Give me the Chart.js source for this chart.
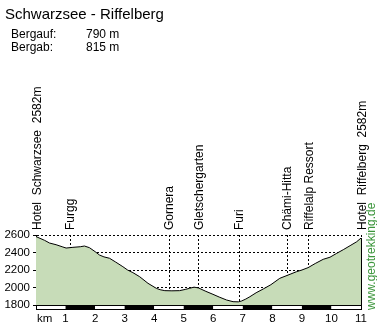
<!DOCTYPE html>
<html lang="de">
<head>
<meta charset="utf-8">
<title>Schwarzsee - Riffelberg</title>
<script src="https://cdn.jsdelivr.net/npm/chart.js@4/dist/chart.umd.min.js"></script>
<style>
    html, body { margin: 0; padding: 0; background: #fff; }
    body { width: 377px; height: 328px; position: relative; overflow: hidden;
           font-family: "Liberation Sans", Arial, sans-serif; color: #000; }
    #grafico { position: absolute; left: 0; top: 0; }
    .titel { position: absolute; left: 5px; top: 6px; font-size: 15px; line-height: 15px; white-space: nowrap; }
    .werte { position: absolute; left: 11px; top: 28px; font-size: 12px; line-height: 13px; }
    .werte div { position: relative; height: 13px; white-space: nowrap; }
    .werte span { position: absolute; left: 75px; }
</style>
</head>
<body>
<canvas id="grafico" width="377" height="328"></canvas>
<div class="titel">Schwarzsee - Riffelberg</div>
<div class="werte">
    <div>Bergauf:<span>790 m</span></div>
    <div>Bergab:<span>815 m</span></div>
</div>

<script>
// Höhenprofil: Distanz (km) und Höhe (m)
const distanzKm = [0, 0.29, 0.46, 0.68, 0.91, 1.02, 1.25, 1.5, 1.64, 1.81, 2.0, 2.15, 2.3, 2.49, 2.7, 2.94, 3.1, 3.28, 3.51, 3.79,
    4.07, 4.2, 4.36, 4.6, 4.86, 5.05, 5.2, 5.35, 5.5, 5.75, 5.99, 6.2, 6.45, 6.67, 6.85, 6.96, 7.1, 7.24, 7.45, 7.69,
    7.95, 8.25, 8.5, 8.82, 9.0, 9.21, 9.45, 9.72, 9.95, 10.18, 10.4, 10.63, 10.85, 11];
const hoeheM = [2582, 2539, 2508, 2489, 2463, 2451, 2459, 2466, 2474, 2455, 2410, 2371, 2350, 2334, 2290, 2238, 2200, 2170, 2123, 2048,
    1991, 1975, 1964, 1962, 1964, 1978, 1991, 2004, 1995, 1956, 1922, 1891, 1857, 1838, 1836, 1846, 1868, 1895, 1940, 1983,
    2032, 2105, 2138, 2181, 2200, 2227, 2274, 2322, 2346, 2391, 2432, 2478, 2522, 2565];

// Wegpunkte
const wegpunktNamen = ['Hotel  Schwarzsee  2582m', 'Furgg', 'Gornera', 'Gletschergarten', 'Furi', 'Chämi-Hitta', 'Riffelalp Ressort', 'Hotel  Riffelberg  2582m'];
const wegpunktKm = [0, 1.14, 4.49, 5.49, 6.87, 8.48, 9.21, 11];

// Achsen
const hoeheTicks = [1800, 2000, 2200, 2400, 2600];
const kmTicks = [1, 2, 3, 4, 5, 6, 7, 8, 9, 10, 11];

const SCHRIFT = '"Liberation Sans", Arial, sans-serif';
const FUELLUNG = 'rgb(199,220,184)';
const LOGO_GRUEN = '#3c963c';

const profilPlugin = {
    id: 'profil',
    beforeDatasetsDraw(chart) {
        // gepunktete Linien an den Wegpunkten
        const { ctx, chartArea } = chart;
        const xs = chart.scales.x;
        ctx.save();
        ctx.strokeStyle = '#000';
        ctx.lineWidth = 1;
        ctx.setLineDash([2, 2]);
        wegpunktKm.forEach(km => {
            const px = Math.round(xs.getPixelForValue(km)) + 0.5;
            ctx.beginPath();
            ctx.moveTo(px, chartArea.top);
            ctx.lineTo(px, chartArea.bottom);
            ctx.stroke();
        });
        ctx.restore();
    },
    afterDraw(chart) {
        const { ctx, chartArea } = chart;
        const xs = chart.scales.x;
        const ys = chart.scales.y;
        ctx.save();

        // rechter Rand des Profils
        const xr = Math.round(xs.getPixelForValue(distanzKm[distanzKm.length - 1])) + 0.5;
        ctx.strokeStyle = '#000';
        ctx.lineWidth = 1;
        ctx.beginPath();
        ctx.moveTo(xr, ys.getPixelForValue(hoeheM[hoeheM.length - 1]));
        ctx.lineTo(xr, chartArea.bottom);
        ctx.stroke();

        // Kilometerbalken schwarz/weiss
        const balkenY = chartArea.bottom;
        const balkenH = 5;
        for (let i = 0; i < 11; i++) {
            const x1 = xs.getPixelForValue(i);
            const x2 = xs.getPixelForValue(i + 1);
            ctx.fillStyle = i % 2 ? '#000' : '#fff';
            ctx.fillRect(x1, balkenY, x2 - x1, balkenH);
        }
        const bx1 = Math.round(xs.getPixelForValue(0)) + 0.5;
        const bx2 = Math.round(xs.getPixelForValue(11)) + 0.5;
        ctx.strokeRect(bx1, balkenY + 0.5, bx2 - bx1, balkenH - 1);

        // "km" vor den Achsenbeschriftungen
        ctx.fillStyle = '#000';
        ctx.font = '11.5px ' + SCHRIFT;
        ctx.textAlign = 'left';
        ctx.textBaseline = 'middle';
        ctx.fillText('km', xs.getPixelForValue(0) + 1, chartArea.bottom + 7 + 6.9);

        // Namen der Wegpunkte, senkrecht
        ctx.font = '12px ' + SCHRIFT;
        ctx.textBaseline = 'alphabetic';
        wegpunktNamen.forEach((name, i) => {
            const px = xs.getPixelForValue(wegpunktKm[i]);
            ctx.save();
            ctx.translate(px + 4.5, chartArea.top - 5);
            ctx.rotate(-Math.PI / 2);
            ctx.fillText(name, 0, 0);
            ctx.restore();
        });

        // Webadresse am rechten Rand
        ctx.fillStyle = LOGO_GRUEN;
        ctx.translate(375, balkenY + balkenH);
        ctx.rotate(-Math.PI / 2);
        ctx.fillText('www.geotrekking.de', 0, 0);

        ctx.restore();
    }
};

new Chart(document.getElementById('grafico'), {
    type: 'line',
    data: {
        datasets: [{
            data: distanzKm.map((km, i) => ({ x: km, y: hoeheM[i] })),
            borderColor: '#000',
            borderWidth: 1,
            backgroundColor: FUELLUNG,
            fill: 'start',
            pointRadius: 0,
            tension: 0
        }]
    },
    options: {
        responsive: false,
        animation: false,
        devicePixelRatio: 1,
        layout: { padding: { left: 0, right: 16, top: 235, bottom: 0 } },
        plugins: { legend: { display: false }, tooltip: { enabled: false } },
        scales: {
            x: {
                type: 'linear',
                min: 0,
                max: 11,
                afterBuildTicks: scale => { scale.ticks = kmTicks.map(v => ({ value: v })); },
                afterFit: scale => { scale.height = 23; },
                grid: { display: false, drawTicks: false },
                border: { display: false },
                ticks: { color: '#000', font: { family: SCHRIFT, size: 11.5 }, padding: 7, autoSkip: false, maxRotation: 0,
                         callback: v => String(v) }
            },
            y: {
                min: 1800,
                max: 2600,
                afterBuildTicks: scale => { scale.ticks = hoeheTicks.map(v => ({ value: v })); },
                afterFit: scale => { scale.width = 36; },
                grid: { color: '#000', lineWidth: 1, tickLength: 3, tickColor: '#000', tickBorderDash: [] },
                border: { display: true, color: '#000', width: 1, dash: [2, 2] },
                ticks: { color: '#000', font: { family: SCHRIFT, size: 11.5 }, padding: 3, callback: v => String(v) }
            }
        }
    },
    plugins: [profilPlugin]
});
</script>
</body>
</html>
